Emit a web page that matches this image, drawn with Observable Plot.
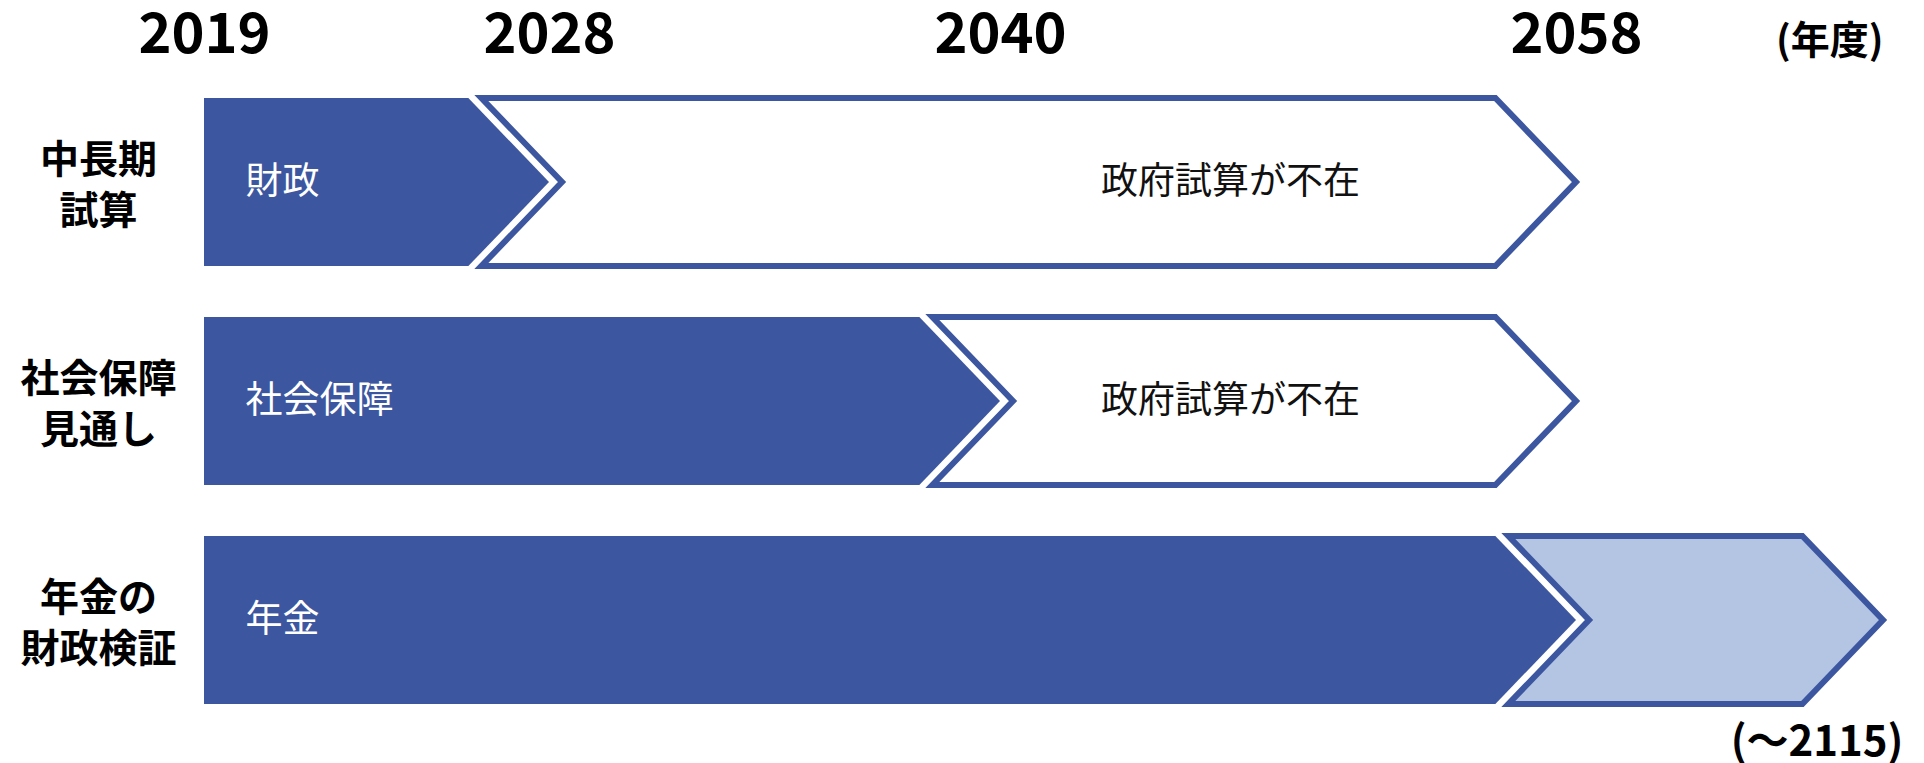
<!DOCTYPE html>
<html>
<head>
<meta charset="utf-8">
<script src="https://cdn.jsdelivr.net/npm/d3@7"></script>
<script src="https://cdn.jsdelivr.net/npm/@observablehq/plot@0.6"></script>
<style>
  html, body { margin: 0; padding: 0; background: #fff; }
  svg { display: block; }
</style>
</head>
<body>
<div id="chart"></div>
<script>
// ---- data ----
const years = [2019, 2028, 2040, 2058];
const endYear = 2115;
const startYear = 2019;
const rows = ["中長期\n試算", "社会保障\n見通し", "年金の\n財政検証"];
const knownEnd = [2028, 2040, 2058];
const knownLabels = ["財政", "社会保障", "年金"];
const gapEnd = [2058, 2058, 2115];
const gapLabels = ["政府試算が不在", "政府試算が不在", ""];
const gapType = ["absent", "absent", "extended"];
const unitLabel = "(年度)";
const endLabel = "(〜2115)";

// ---- schematic (non-uniform) time axis: milestone years -> layout units ----
const milestones = [2019, 2028, 2040, 2058, 2115];
const milestoneUnits = [0, 345, 796, 1372, 1679];
const pos = d3.scaleLinear().domain(milestones).range(milestoneUnits);

// ---- styles ----
const dark = "#3C57A0";
const light = "#B4C5E4";
const fillOf = {known: dark, absent: "#ffffff", extended: light};

const segments = rows.flatMap((r, i) => [
  {row: r, start: startYear, end: knownEnd[i], type: "known", label: knownLabels[i]},
  {row: r, start: knownEnd[i], end: gapEnd[i], type: gapType[i], label: gapLabels[i]}
]);

function arrows(index, scales) {
  const {x, y} = scales;
  const bw = y.bandwidth();
  const depth = bw * 0.48;
  const gap = 13;
  const g = d3.create("svg:g");
  for (const s of segments) {
    const y0 = y(s.row), y1 = y0 + bw, ym = y0 + bw / 2;
    const xs = x(pos(s.start)), xe = x(pos(s.end));
    const pts = s.type === "known"
      ? [[xs, y0], [xe - depth, y0], [xe, ym], [xe - depth, y1], [xs, y1]]
      : [[xs - depth + gap, y0], [xe - depth, y0], [xe, ym], [xe - depth, y1], [xs - depth + gap, y1], [xs + gap, ym]];
    g.append("polygon")
      .attr("points", pts.map(p => p.join(",")).join(" "))
      .attr("fill", fillOf[s.type])
      .attr("stroke", s.type === "known" ? "none" : dark)
      .attr("stroke-width", s.type === "known" ? 0 : 6)
      .attr("stroke-linejoin", "miter");
  }
  return g.node();
}

const chart = Plot.plot({
  width: 1924,
  height: 763,
  marginTop: 97,
  marginBottom: 59,
  marginLeft: 204,
  marginRight: 41,
  style: {fontFamily: "'Noto Sans CJK JP', 'Noto Sans', sans-serif", background: "#fff", color: "#000"},
  x: {domain: [0, milestoneUnits[milestoneUnits.length - 1]], axis: null},
  y: {type: "band", domain: rows, paddingInner: 0.235, paddingOuter: 0, axis: null},
  marks: [
    arrows,
    Plot.text(years, {x: d => pos(d), text: d => String(d), frameAnchor: "top", lineAnchor: "middle", dy: -62, fontSize: 56, fontWeight: 700, fill: "#000"}),
    Plot.text([unitLabel], {x: () => pos(endYear), frameAnchor: "top", lineAnchor: "middle", textAnchor: "end", dy: -56, fontSize: 39, fontWeight: 700, fill: "#000"}),
    Plot.text([endLabel], {x: () => pos(endYear), frameAnchor: "bottom", lineAnchor: "middle", textAnchor: "end", dx: 20, dy: 38, fontSize: 42, fontWeight: 700, fill: "#000"}),
    Plot.text(rows, {y: d => d, frameAnchor: "left", lineAnchor: "middle", dx: -106, textAnchor: "middle", fontSize: 39, fontWeight: 700, lineHeight: 1.3, fill: "#000"}),
    Plot.text(segments.filter(d => d.type === "known"), {x: d => pos(d.start), y: "row", text: "label", dx: 41, textAnchor: "start", fill: "#fff", fontSize: 37}),
    Plot.text(segments.filter(d => d.type === "absent"), {x: d => pos(d.end), y: "row", text: "label", dx: -346, textAnchor: "middle", fill: "#111", fontSize: 37})
  ]
});
document.getElementById("chart").appendChild(chart);
</script>
</body>
</html>
